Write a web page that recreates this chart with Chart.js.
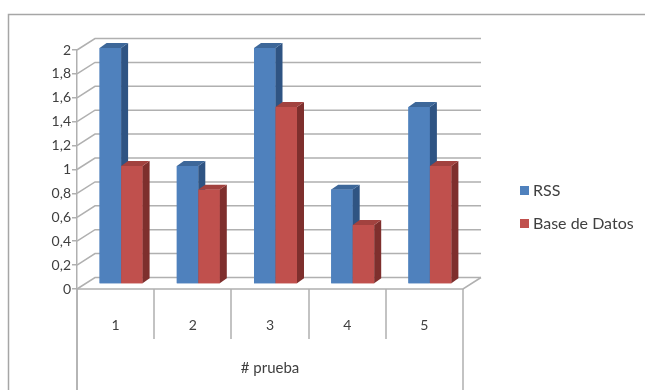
<!DOCTYPE html>
<html>
<head>
<meta charset="utf-8">
<script src="https://cdn.jsdelivr.net/npm/chart.js@4/dist/chart.umd.min.js"></script>
<style>
  html, body { margin: 0; padding: 0; background: #ffffff; }
  #wrap { width: 645px; height: 390px; }
</style>
</head>
<body>
<div id="wrap"><canvas id="chart" width="645" height="390"></canvas></div>
<script>
// Test runs and the two measured series
const categories = ['1', '2', '3', '4', '5'];
const rssValues = [2, 1, 2, 0.8, 1.5];
const dbValues = [1, 0.8, 1.5, 0.5, 1];
const seriesNames = ['RSS', 'Base de Datos'];
const yTickValues = [0, 0.2, 0.4, 0.6, 0.8, 1, 1.2, 1.4, 1.6, 1.8, 2];
const xAxisTitle = '# prueba';

const FONT = 'Lato, "Open Sans", sans-serif';
const TEXT = '#404040';
const GRID = '#b0b0b0';

// Pseudo-3D geometry (pixels)
const WALL = { dx: 18, dy: -11.5 };      // front plane -> back wall
const DEPTH = { dx: 7, dy: -5 };         // thickness of each bar
const BAR_PLANE = [1, 0, 0, 0.9875, 5.5, -1.4]; // front plane -> bar front faces

const faceColors = [
  { side: '#2f5483', top: '#3d6799' },
  { side: '#7e2f2d', top: '#a2423f' }
];

const fmt = v => String(v).replace('.', ',');

const threeD = {
  id: 'threeD',
  beforeDraw(chart) {
    const { ctx, width, height } = chart;
    ctx.save();
    ctx.fillStyle = '#ffffff';
    ctx.fillRect(0, 0, width, height);
    // outer frame
    ctx.strokeStyle = '#a6a6a6';
    ctx.lineWidth = 1.5;
    ctx.strokeRect(8.5, 14.5, width + 20, height + 20);
    ctx.restore();
  },
  beforeDatasetsDraw(chart) {
    const { ctx, chartArea: a, scales } = chart;
    const y = scales.y;
    ctx.save();
    ctx.strokeStyle = GRID;
    ctx.lineWidth = 1.5;
    // side wall diagonals and back wall gridlines
    yTickValues.forEach(v => {
      const py = y.getPixelForValue(v);
      ctx.beginPath();
      ctx.moveTo(a.left, py);
      ctx.lineTo(a.left + WALL.dx, py + WALL.dy);
      ctx.lineTo(a.right + WALL.dx, py + WALL.dy);
      ctx.stroke();
    });
    // floor front edge and right edge
    const y0 = y.getPixelForValue(0);
    ctx.beginPath();
    ctx.moveTo(a.left, y0);
    ctx.lineTo(a.right, y0);
    ctx.lineTo(a.right + WALL.dx, y0 + WALL.dy);
    ctx.stroke();
    // category table lines below the floor
    const n = categories.length;
    const step = (a.right - a.left) / n;
    ctx.beginPath();
    for (let i = 0; i <= n; i++) {
      const px = Math.round(a.left + i * step);
      const bottom = (i === 0 || i === n) ? chart.height : y0 + 50;
      ctx.moveTo(px, y0);
      ctx.lineTo(px, bottom);
    }
    ctx.stroke();
    ctx.restore();

    // move bars back onto their plane
    ctx.save();
    ctx.transform(...BAR_PLANE);
  },
  afterDatasetsDraw(chart) {
    const { ctx } = chart;
    // draw series left to right so each bar's front face hides its left neighbour's side
    chart.data.datasets.forEach((ds, i) => {
      const meta = chart.getDatasetMeta(i);
      const c = faceColors[i];
      meta.data.forEach(bar => {
        bar.draw(ctx);
        const { x, y, base, width } = bar.getProps(['x', 'y', 'base', 'width'], true);
        const l = x - width / 2, r = x + width / 2;
        ctx.fillStyle = c.side;
        ctx.beginPath();
        ctx.moveTo(r, y);
        ctx.lineTo(r + DEPTH.dx, y + DEPTH.dy);
        ctx.lineTo(r + DEPTH.dx, base + DEPTH.dy);
        ctx.lineTo(r, base);
        ctx.closePath();
        ctx.fill();
        ctx.fillStyle = c.top;
        ctx.beginPath();
        ctx.moveTo(l, y);
        ctx.lineTo(l + DEPTH.dx, y + DEPTH.dy);
        ctx.lineTo(r + DEPTH.dx, y + DEPTH.dy);
        ctx.lineTo(r, y);
        ctx.closePath();
        ctx.fill();
      });
    });
    ctx.restore();
  },
  afterDraw(chart) {
    const { ctx, scales } = chart;
    const y0 = scales.y.getPixelForValue(0);
    ctx.save();
    ctx.strokeStyle = GRID;
    ctx.lineWidth = 1.5;
    ctx.beginPath();
    ctx.moveTo(chart.chartArea.left, y0);
    ctx.lineTo(chart.chartArea.left, chart.height);
    ctx.stroke();
    // legend
    const legendX = 520, legendY = [190, 223];
    ctx.font = '16px ' + FONT;
    ctx.textBaseline = 'middle';
    chart.data.datasets.forEach((ds, i) => {
      ctx.fillStyle = ds.backgroundColor;
      ctx.fillRect(legendX, legendY[i] - 4, 9, 9);
      ctx.fillStyle = TEXT;
      ctx.fillText(ds.label, legendX + 13, legendY[i] + 1);
    });
    ctx.restore();
  }
};

new Chart(document.getElementById('chart'), {
  type: 'bar',
  data: {
    labels: categories,
    datasets: [
      { label: seriesNames[0], data: rssValues, backgroundColor: '#4f81bd', clip: false },
      { label: seriesNames[1], data: dbValues, backgroundColor: '#c0504d', clip: false }
    ]
  },
  options: {
    responsive: false,
    devicePixelRatio: 1,
    animation: false,
    layout: { padding: { left: 0, top: 50, right: 182, bottom: 0 } },
    datasets: { bar: { categoryPercentage: 0.557, barPercentage: 1 } },
    plugins: { legend: { display: false }, tooltip: { enabled: false } },
    scales: {
      x: {
        type: 'category',
        offset: true,
        grid: { display: false },
        border: { display: false },
        ticks: { color: TEXT, font: { family: FONT, size: 14 }, padding: 20 },
        title: { display: true, text: xAxisTitle, color: TEXT, font: { family: FONT, size: 15 }, padding: { top: 0, bottom: 13 } },
        afterFit(scale) { scale.height = 101; }
      },
      y: {
        min: 0,
        max: 2,
        grid: { drawOnChartArea: false, drawTicks: true, tickLength: 5, color: GRID, lineWidth: 1.5 },
        border: { display: true, color: GRID, width: 1.5 },
        afterBuildTicks(scale) { scale.ticks = yTickValues.map(v => ({ value: v })); },
        ticks: { color: TEXT, font: { family: FONT, size: 14 }, padding: 1, callback: v => fmt(v) },
        afterFit(scale) { scale.width = 77; }
      }
    }
  },
  plugins: [threeD]
});
</script>
</body>
</html>
